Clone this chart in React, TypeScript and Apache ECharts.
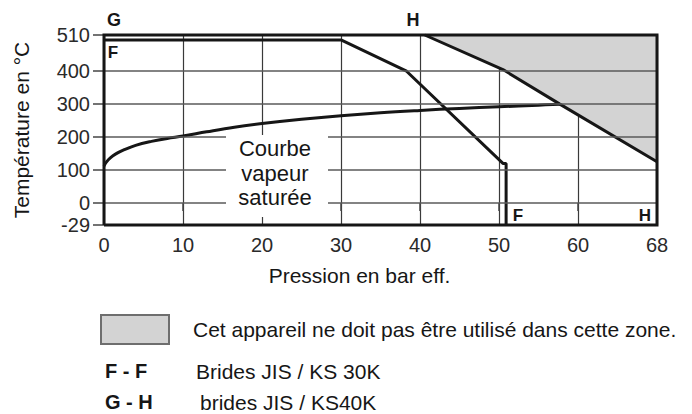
import React, { useEffect, useRef } from "react";
import * as echarts from "echarts";

// Axis geometry as drawn in the picture (right edge is labelled 68, bottom edge -29)
const X_EDGE = 70;
const X_EDGE_LABEL = "68";
const Y_TICKS = [-67, 0, 100, 200, 300, 400, 510];
const Y_BOTTOM = -67;
const Y_BOTTOM_LABEL = "-29";
const Y_TOP = 510;
const Y_GRID = [0, 100, 200, 300, 400];

// Curve F - F (JIS / KS 30K)
const F_CURVE: number[][] = [
  [0, 495], [30, 495], [38.3, 400], [50.5, 120], [50.9, 120], [50.9, -67],
];
// Curve G - H (JIS / KS 40K), the area above it is forbidden
const H_CURVE: number[][] = [
  [40.6, 510], [50.5, 405], [57.7, 300], [70, 125],
];
// Saturated steam curve
const SAT_CURVE: number[][] = [
  [0, 112], [0.3, 124], [0.8, 137], [1.5, 149], [2.5, 161], [4, 175], [6, 187],
  [8, 196], [10, 203], [13, 216], [16.5, 230], [20, 241], [25, 254], [30, 265],
  [35, 274], [40, 281], [45, 287], [50, 292], [55, 297], [57.7, 300],
];
const FRAME: number[][] = [
  [0, Y_BOTTOM], [X_EDGE, Y_BOTTOM], [X_EDGE, Y_TOP], [0, Y_TOP], [0, Y_BOTTOM],
];

const FONT = "'Liberation Sans', Arial, Helvetica, sans-serif";
const INK = "#161616";

function txt(text: string, x: number, y: number, size: number, bold = false, align = "left") {
  return {
    type: "text",
    x,
    y,
    z: 120,
    style: {
      text,
      fill: INK,
      fontSize: size,
      fontWeight: bold ? "bold" : "normal",
      fontFamily: FONT,
      align,
      textAlign: align,
      verticalAlign: "middle",
      textVerticalAlign: "middle",
    },
  };
}

export default function App() {
  const ref = useRef<HTMLDivElement>(null);
  useEffect(() => {
    document.body.style.margin = "0";
    const chart = echarts.init(ref.current!, null, { renderer: "svg" });
    const lineBase = {
      type: "line",
      symbol: "none",
      clip: false,
      silent: true,
      animation: false,
    };
    chart.setOption({
      animation: false,
      textStyle: { fontFamily: FONT },
      grid: { left: 104, right: 35, top: 35, bottom: 189, show: false },
      xAxis: {
        type: "value",
        min: 0,
        max: X_EDGE,
        interval: 10,
        name: "Pression en bar eff.",
        nameLocation: "middle",
        nameGap: 40,
        nameTextStyle: { fontSize: 21, color: INK, fontFamily: FONT, padding: [0, 42, 0, 0] },
        axisLine: { show: false },
        axisTick: { show: true, length: 8, lineStyle: { color: "#444", width: 1.5 } },
        axisLabel: {
          fontSize: 20,
          color: "#2a2a2a",
          margin: 10,
          fontFamily: FONT,
          formatter: (v: number) => (v === X_EDGE ? X_EDGE_LABEL : String(v)),
        },
        splitLine: { show: true, lineStyle: { color: "#3a3a3a", width: 1.2 } },
      },
      yAxis: {
        type: "value",
        min: Y_BOTTOM,
        max: Y_TOP,
        name: "Température en °C",
        nameLocation: "middle",
        nameGap: 72,
        nameTextStyle: { fontSize: 21, color: INK, fontFamily: FONT },
        axisLine: { show: false },
        axisTick: {
          show: true,
          length: 11,
          customValues: Y_TICKS,
          lineStyle: { color: "#444", width: 1.5 },
        },
        axisLabel: {
          customValues: Y_TICKS,
          fontSize: 20,
          color: "#2a2a2a",
          margin: 14,
          fontFamily: FONT,
          formatter: (v: number) => (v === Y_BOTTOM ? Y_BOTTOM_LABEL : String(v)),
        },
        splitLine: { show: false },
      },
      series: [
        {
          ...lineBase,
          name: "gridlines",
          z: 1,
          data: [[0, Y_BOTTOM]],
          lineStyle: { width: 0, opacity: 0 },
          markLine: {
            silent: true,
            symbol: "none",
            label: { show: false },
            lineStyle: { color: "#5a5a5a", width: 1.6, type: "solid" },
            data: Y_GRID.map((v) => ({ yAxis: v })),
          },
        },
        {
          ...lineBase,
          name: "G - H",
          z: 3,
          data: H_CURVE,
          lineStyle: { color: INK, width: 3 },
          areaStyle: { origin: "end", color: "#d3d3d3", opacity: 1 },
        },
        {
          ...lineBase,
          name: "F - F",
          z: 4,
          data: F_CURVE,
          lineStyle: { color: INK, width: 3 },
        },
        {
          ...lineBase,
          name: "Courbe vapeur saturée",
          z: 4,
          smooth: 0.4,
          data: SAT_CURVE,
          lineStyle: { color: INK, width: 3 },
        },
        {
          ...lineBase,
          name: "frame",
          z: 6,
          data: FRAME,
          lineStyle: { color: INK, width: 3, join: "miter" },
        },
      ],
      graphic: [
        { type: "rect", z: 100, shape: { x: 226, y: 135, width: 102, height: 82 }, style: { fill: "#ffffff" } },
        txt("Courbe", 275, 148, 22, false, "center"),
        txt("vapeur", 275, 173, 22, false, "center"),
        txt("saturée", 275, 197, 22, false, "center"),
        txt("G", 114, 20, 18, true, "center"),
        txt("H", 413, 20, 18, true, "center"),
        txt("F", 113, 52, 17, true, "center"),
        txt("F", 518, 215, 17, true, "center"),
        txt("H", 645, 215, 17, true, "center"),
        {
          type: "rect",
          z: 100,
          shape: { x: 101, y: 315, width: 68, height: 29 },
          style: { fill: "#d3d3d3", stroke: "#6e6e6e", lineWidth: 2 },
        },
        txt("Cet appareil ne doit pas être utilisé dans cette zone.", 193, 329, 21),
        txt("F - F", 105, 371, 20, true),
        txt("Brides JIS / KS 30K", 196, 371, 21),
        txt("G - H", 105, 402, 20, true),
        txt("brides JIS / KS40K", 200, 402, 21),
      ],
    });
    return () => chart.dispose();
  }, []);
  return <div ref={ref} style={{ width: 692, height: 414 }} />;
}
